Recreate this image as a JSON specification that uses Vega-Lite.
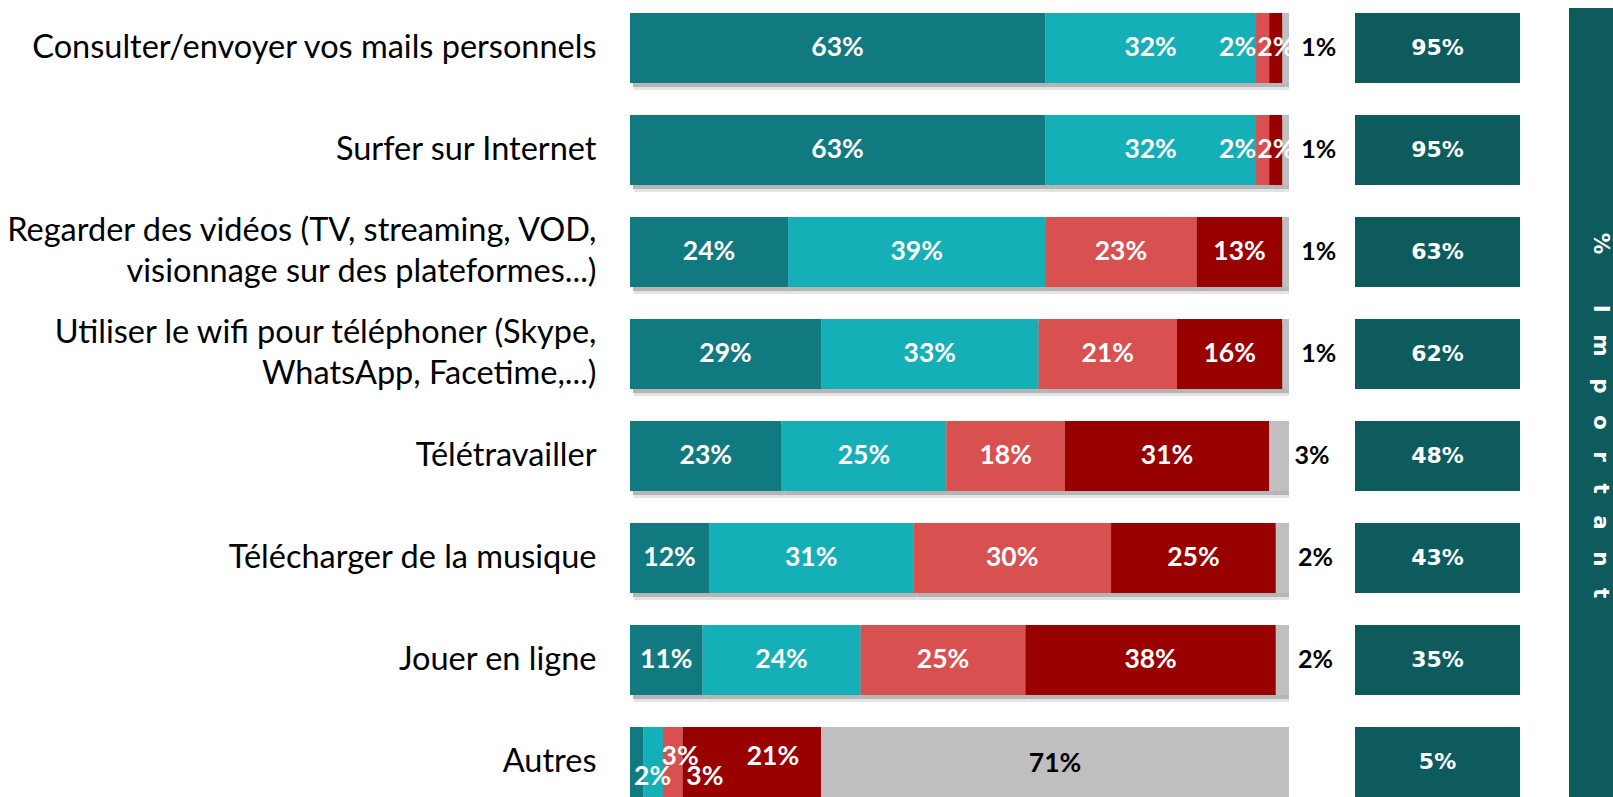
{
  "$schema": "https://vega.github.io/schema/vega-lite/v6.json",
  "background": "white",
  "padding": 0,
  "config": {"view": {"stroke": null}},
  "spacing": 49,
  "bounds": "flush",
  "resolve": {"scale": {"x": "independent", "y": "independent", "color": "independent"}},
  "datasets": {
    "reponses": [
      {"activite": "Consulter/envoyer vos mails personnels", "reponse": "Très important", "ordre": 1, "valeur": 0.63},
      {"activite": "Consulter/envoyer vos mails personnels", "reponse": "Plutôt important", "ordre": 2, "valeur": 0.32},
      {"activite": "Consulter/envoyer vos mails personnels", "reponse": "Peu important", "ordre": 3, "valeur": 0.02},
      {"activite": "Consulter/envoyer vos mails personnels", "reponse": "Pas du tout important", "ordre": 4, "valeur": 0.02},
      {"activite": "Consulter/envoyer vos mails personnels", "reponse": "Ne se prononce pas", "ordre": 5, "valeur": 0.01},
      {"activite": "Surfer sur Internet", "reponse": "Très important", "ordre": 1, "valeur": 0.63},
      {"activite": "Surfer sur Internet", "reponse": "Plutôt important", "ordre": 2, "valeur": 0.32},
      {"activite": "Surfer sur Internet", "reponse": "Peu important", "ordre": 3, "valeur": 0.02},
      {"activite": "Surfer sur Internet", "reponse": "Pas du tout important", "ordre": 4, "valeur": 0.02},
      {"activite": "Surfer sur Internet", "reponse": "Ne se prononce pas", "ordre": 5, "valeur": 0.01},
      {"activite": "Regarder des vidéos (TV, streaming, VOD, visionnage sur des plateformes...)", "reponse": "Très important", "ordre": 1, "valeur": 0.24},
      {"activite": "Regarder des vidéos (TV, streaming, VOD, visionnage sur des plateformes...)", "reponse": "Plutôt important", "ordre": 2, "valeur": 0.39},
      {"activite": "Regarder des vidéos (TV, streaming, VOD, visionnage sur des plateformes...)", "reponse": "Peu important", "ordre": 3, "valeur": 0.23},
      {"activite": "Regarder des vidéos (TV, streaming, VOD, visionnage sur des plateformes...)", "reponse": "Pas du tout important", "ordre": 4, "valeur": 0.13},
      {"activite": "Regarder des vidéos (TV, streaming, VOD, visionnage sur des plateformes...)", "reponse": "Ne se prononce pas", "ordre": 5, "valeur": 0.01},
      {"activite": "Utiliser le wifi pour téléphoner (Skype, WhatsApp, Facetime,...)", "reponse": "Très important", "ordre": 1, "valeur": 0.29},
      {"activite": "Utiliser le wifi pour téléphoner (Skype, WhatsApp, Facetime,...)", "reponse": "Plutôt important", "ordre": 2, "valeur": 0.33},
      {"activite": "Utiliser le wifi pour téléphoner (Skype, WhatsApp, Facetime,...)", "reponse": "Peu important", "ordre": 3, "valeur": 0.21},
      {"activite": "Utiliser le wifi pour téléphoner (Skype, WhatsApp, Facetime,...)", "reponse": "Pas du tout important", "ordre": 4, "valeur": 0.16},
      {"activite": "Utiliser le wifi pour téléphoner (Skype, WhatsApp, Facetime,...)", "reponse": "Ne se prononce pas", "ordre": 5, "valeur": 0.01},
      {"activite": "Télétravailler", "reponse": "Très important", "ordre": 1, "valeur": 0.23},
      {"activite": "Télétravailler", "reponse": "Plutôt important", "ordre": 2, "valeur": 0.25},
      {"activite": "Télétravailler", "reponse": "Peu important", "ordre": 3, "valeur": 0.18},
      {"activite": "Télétravailler", "reponse": "Pas du tout important", "ordre": 4, "valeur": 0.31},
      {"activite": "Télétravailler", "reponse": "Ne se prononce pas", "ordre": 5, "valeur": 0.03},
      {"activite": "Télécharger de la musique", "reponse": "Très important", "ordre": 1, "valeur": 0.12},
      {"activite": "Télécharger de la musique", "reponse": "Plutôt important", "ordre": 2, "valeur": 0.31},
      {"activite": "Télécharger de la musique", "reponse": "Peu important", "ordre": 3, "valeur": 0.30},
      {"activite": "Télécharger de la musique", "reponse": "Pas du tout important", "ordre": 4, "valeur": 0.25},
      {"activite": "Télécharger de la musique", "reponse": "Ne se prononce pas", "ordre": 5, "valeur": 0.02},
      {"activite": "Jouer en ligne", "reponse": "Très important", "ordre": 1, "valeur": 0.11},
      {"activite": "Jouer en ligne", "reponse": "Plutôt important", "ordre": 2, "valeur": 0.24},
      {"activite": "Jouer en ligne", "reponse": "Peu important", "ordre": 3, "valeur": 0.25},
      {"activite": "Jouer en ligne", "reponse": "Pas du tout important", "ordre": 4, "valeur": 0.38},
      {"activite": "Jouer en ligne", "reponse": "Ne se prononce pas", "ordre": 5, "valeur": 0.02},
      {"activite": "Autres", "reponse": "Très important", "ordre": 1, "valeur": 0.02},
      {"activite": "Autres", "reponse": "Plutôt important", "ordre": 2, "valeur": 0.03},
      {"activite": "Autres", "reponse": "Peu important", "ordre": 3, "valeur": 0.03},
      {"activite": "Autres", "reponse": "Pas du tout important", "ordre": 4, "valeur": 0.21},
      {"activite": "Autres", "reponse": "Ne se prononce pas", "ordre": 5, "valeur": 0.71}
    ],
    "important": [
      {"activite": "Consulter/envoyer vos mails personnels", "mesure": "% Important", "important": 0.95},
      {"activite": "Surfer sur Internet", "mesure": "% Important", "important": 0.95},
      {"activite": "Regarder des vidéos (TV, streaming, VOD, visionnage sur des plateformes...)", "mesure": "% Important", "important": 0.63},
      {"activite": "Utiliser le wifi pour téléphoner (Skype, WhatsApp, Facetime,...)", "mesure": "% Important", "important": 0.62},
      {"activite": "Télétravailler", "mesure": "% Important", "important": 0.48},
      {"activite": "Télécharger de la musique", "mesure": "% Important", "important": 0.43},
      {"activite": "Jouer en ligne", "mesure": "% Important", "important": 0.35},
      {"activite": "Autres", "mesure": "% Important", "important": 0.05}
    ],
    "titre": [
      {"titre": "% Important"}
    ]
  },
  "hconcat": [
    {
      "width": 659,
      "height": 797,
      "data": {"name": "reponses"},
      "transform": [
        {"stack": "valeur", "groupby": ["activite"], "sort": [{"field": "ordre"}], "as": ["x0", "x1"]},
        {"calculate": "(datum.x0 + datum.x1) / 2", "as": "xm"}
      ],
      "encoding": {
        "y": {
          "field": "activite",
          "type": "nominal",
          "sort": ["Consulter/envoyer vos mails personnels", "Surfer sur Internet", "Regarder des vidéos (TV, streaming, VOD, visionnage sur des plateformes...)", "Utiliser le wifi pour téléphoner (Skype, WhatsApp, Facetime,...)", "Télétravailler", "Télécharger de la musique", "Jouer en ligne", "Autres"],
          "scale": {"type": "band", "paddingInner": 0.3137, "paddingOuter": 0.0637, "align": 1},
          "axis": {
            "title": null,
            "domain": false,
            "ticks": false,
            "tickSize": 0,
            "labelPadding": 34,
            "labelFont": "Lato",
            "labelFontSize": 32.5,
            "labelColor": "#000000",
            "labelLimit": 0,
            "labelLineHeight": 41,
            "labelBaseline": "middle",
            "labelOffset": {"expr": "length(datum.value) > 40 ? -20.5 : 0"},
            "minExtent": 630,
            "maxExtent": 630,
            "labelExpr": "length(datum.label) > 40 ? [substring(datum.label, 0, lastindexof(substring(datum.label, 0, 41), ' ')), substring(datum.label, lastindexof(substring(datum.label, 0, 41), ' ') + 1)] : datum.label"
          }
        }
      },
      "layer": [
        {
          "mark": {"type": "bar", "color": "#e3e3e3", "xOffset": 4, "x2Offset": 4, "yOffset": 7, "y2Offset": 7, "clip": true},
          "encoding": {
            "x": {"field": "x0", "type": "quantitative", "scale": {"domain": [0, 1], "nice": false, "zero": true}, "axis": null},
            "x2": {"field": "x1"}
          }
        },
        {
          "mark": {"type": "bar", "color": "#b5b5b5", "xOffset": 3, "x2Offset": 3, "yOffset": 4, "y2Offset": 4, "clip": true},
          "encoding": {
            "x": {"field": "x0", "type": "quantitative"},
            "x2": {"field": "x1"}
          }
        },
        {
          "mark": {"type": "bar"},
          "encoding": {
            "x": {"field": "x0", "type": "quantitative"},
            "x2": {"field": "x1"},
            "color": {
              "field": "reponse",
              "type": "nominal",
              "scale": {
                "domain": ["Très important", "Plutôt important", "Peu important", "Pas du tout important", "Ne se prononce pas"],
                "range": ["#117A80", "#15AFB7", "#D95050", "#990000", "#BFBFBF"]
              },
              "legend": null
            }
          }
        },
        {
          "transform": [{"filter": "datum.ordre <= 4 && datum.activite != 'Autres' && !(datum.ordre == 3 && datum.valeur < 0.05)"}],
          "mark": {"type": "text", "color": "white", "font": "Lato", "fontWeight": "bold", "fontSize": 26.5, "baseline": "middle", "align": "center"},
          "encoding": {
            "x": {"field": "xm", "type": "quantitative"},
            "text": {"field": "valeur", "type": "quantitative", "format": ".0%"}
          }
        },
        {
          "transform": [{"filter": "datum.ordre == 3 && datum.valeur < 0.05 && datum.activite != 'Autres'"}],
          "mark": {"type": "text", "color": "white", "font": "Lato", "fontWeight": "bold", "fontSize": 26.5, "baseline": "middle", "align": "center", "dx": -25},
          "encoding": {
            "x": {"field": "xm", "type": "quantitative"},
            "text": {"field": "valeur", "type": "quantitative", "format": ".0%"}
          }
        },
        {
          "transform": [{"filter": "datum.ordre == 5 && datum.valeur < 0.1"}],
          "mark": {"type": "text", "color": "black", "font": "Lato", "fontWeight": "bold", "fontSize": 25, "baseline": "middle", "align": "center", "dx": 33},
          "encoding": {
            "x": {"field": "xm", "type": "quantitative"},
            "text": {"field": "valeur", "type": "quantitative", "format": ".0%"}
          }
        },
        {
          "transform": [{"filter": "datum.ordre == 5 && datum.valeur >= 0.1"}],
          "mark": {"type": "text", "color": "black", "font": "Lato", "fontWeight": "bold", "fontSize": 26.5, "baseline": "middle", "align": "center", "dy": 2},
          "encoding": {
            "x": {"field": "xm", "type": "quantitative"},
            "text": {"field": "valeur", "type": "quantitative", "format": ".0%"}
          }
        },
        {
          "transform": [{"filter": "datum.activite == 'Autres' && datum.ordre == 1"}],
          "mark": {"type": "text", "color": "white", "font": "Lato", "fontWeight": "bold", "fontSize": 26.5, "baseline": "middle", "align": "center", "dx": 16, "dy": 15},
          "encoding": {
            "x": {"field": "xm", "type": "quantitative"},
            "text": {"field": "valeur", "type": "quantitative", "format": ".0%"}
          }
        },
        {
          "transform": [{"filter": "datum.activite == 'Autres' && datum.ordre == 2"}],
          "mark": {"type": "text", "color": "white", "font": "Lato", "fontWeight": "bold", "fontSize": 26.5, "baseline": "middle", "align": "center", "dx": 27, "dy": -5},
          "encoding": {
            "x": {"field": "xm", "type": "quantitative"},
            "text": {"field": "valeur", "type": "quantitative", "format": ".0%"}
          }
        },
        {
          "transform": [{"filter": "datum.activite == 'Autres' && datum.ordre == 3"}],
          "mark": {"type": "text", "color": "white", "font": "Lato", "fontWeight": "bold", "fontSize": 26.5, "baseline": "middle", "align": "center", "dx": 32, "dy": 15},
          "encoding": {
            "x": {"field": "xm", "type": "quantitative"},
            "text": {"field": "valeur", "type": "quantitative", "format": ".0%"}
          }
        },
        {
          "transform": [{"filter": "datum.activite == 'Autres' && datum.ordre == 4"}],
          "mark": {"type": "text", "color": "white", "font": "Lato", "fontWeight": "bold", "fontSize": 26.5, "baseline": "middle", "align": "center", "dx": 21, "dy": -5},
          "encoding": {
            "x": {"field": "xm", "type": "quantitative"},
            "text": {"field": "valeur", "type": "quantitative", "format": ".0%"}
          }
        }
      ]
    },
    {
      "width": 182,
      "height": 797,
      "data": {"name": "important"},
      "encoding": {
        "y": {
          "field": "activite",
          "type": "nominal",
          "sort": ["Consulter/envoyer vos mails personnels", "Surfer sur Internet", "Regarder des vidéos (TV, streaming, VOD, visionnage sur des plateformes...)", "Utiliser le wifi pour téléphoner (Skype, WhatsApp, Facetime,...)", "Télétravailler", "Télécharger de la musique", "Jouer en ligne", "Autres"],
          "scale": {"type": "band", "paddingInner": 0.3137, "paddingOuter": 0.0637, "align": 1},
          "axis": null
        },
        "x": {
          "field": "mesure",
          "type": "nominal",
          "scale": {"type": "band", "paddingInner": 0, "paddingOuter": 0.0515, "align": 1},
          "axis": null
        }
      },
      "layer": [
        {"mark": {"type": "bar", "color": "#0E5B5E"}},
        {
          "mark": {"type": "text", "color": "white", "font": "DejaVu Sans", "fontWeight": "bold", "fontSize": 22, "baseline": "middle", "align": "center"},
          "encoding": {"text": {"field": "important", "type": "quantitative", "format": ".0%"}}
        }
      ]
    },
    {
      "width": 44,
      "height": 797,
      "data": {"name": "titre"},
      "transform": [
        {"calculate": "join(split(datum.titre, ''), '\u2003')", "as": "titre_espace"}
      ],
      "encoding": {
        "x": {"field": "titre", "type": "nominal", "scale": {"type": "band", "paddingInner": 0, "paddingOuter": 0}, "axis": null},
        "y": {"field": "titre", "type": "nominal", "scale": {"type": "band", "paddingInner": 0, "paddingOuter": 0.00507, "align": 1}, "axis": null}
      },
      "layer": [
        {"mark": {"type": "bar", "color": "#0E5B5E"}},
        {
          "mark": {"type": "text", "color": "white", "font": "DejaVu Sans", "fontWeight": "bold", "fontSize": 21.5, "baseline": "middle", "align": "center", "angle": 90, "xOffset": 9, "yOffset": 13},
          "encoding": {"text": {"field": "titre_espace"}}
        }
      ]
    }
  ]
}
